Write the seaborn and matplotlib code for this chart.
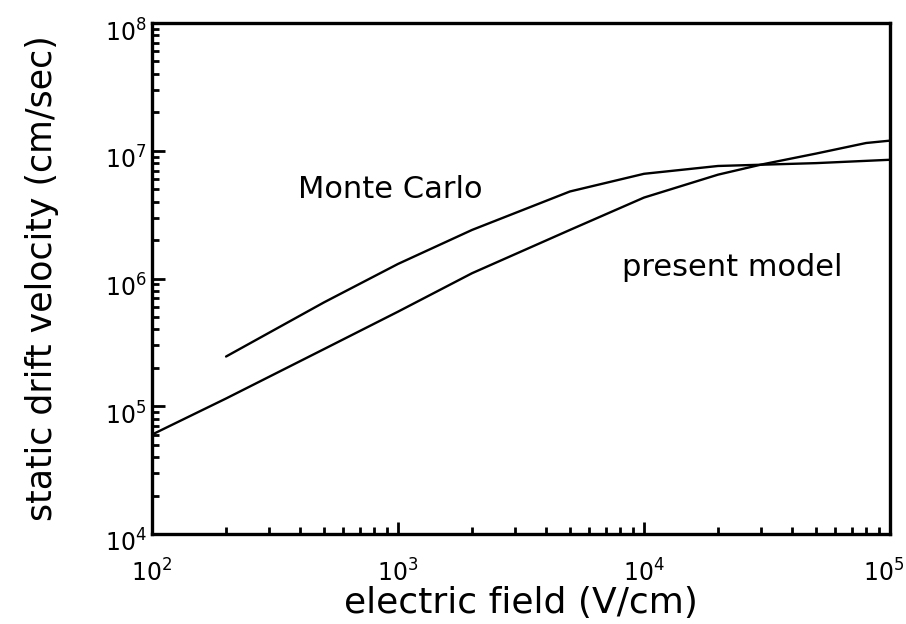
import numpy as np
import pandas as pd
import matplotlib
matplotlib.use("Agg")
import matplotlib.pyplot as plt
import matplotlib.transforms as mtransforms
import seaborn as sns
from matplotlib.ticker import LogLocator, NullFormatter, FixedLocator

# Data
field_mc = [200, 500, 1000, 2000, 5000, 10000, 20000, 50000, 100000]
vel_mc = [2.45e5, 6.5e5, 1.3e6, 2.4e6, 4.8e6, 6.6e6, 7.6e6, 8.0e6, 8.5e6]

field_model = [100, 200, 500, 1000, 2000, 5000, 10000, 20000, 30000, 50000, 80000, 100000]
vel_model = [6.0e4, 1.15e5, 2.8e5, 5.5e5, 1.1e6, 2.4e6, 4.3e6, 6.5e6, 7.8e6, 9.5e6, 1.15e7, 1.2e7]

xticks = [1e2, 1e3, 1e4, 1e5]
xticklabels = ["$10^{2}$", "$10^{3}$", "$10^{4}$", "$10^{5}$"]
yticks = [1e4, 1e5, 1e6, 1e7, 1e8]
yticklabels = ["$10^{4}$", "$10^{5}$", "$10^{6}$", "$10^{7}$", "$10^{8}$"]

df = pd.concat([
    pd.DataFrame({"field": field_mc, "vel": vel_mc, "series": "Monte Carlo"}),
    pd.DataFrame({"field": field_model, "vel": vel_model, "series": "present model"}),
])

sns.set_style("white")
plt.rcParams["font.family"] = ["DejaVu Sans"]
plt.rcParams["mathtext.fontset"] = "dejavusans"
plt.rcParams["text.color"] = "black"
plt.rcParams["axes.labelcolor"] = "black"

fig = plt.figure(figsize=(9.06, 6.24), dpi=100)
ax = fig.add_axes([152/906, 1 - 534/624, (890-152)/906, (534-23)/624])

sns.lineplot(data=df, x="field", y="vel", units="series", estimator=None,
             color="black", linewidth=1.7, ax=ax, legend=False, sort=False)

ax.set_xscale("log")
ax.set_yscale("log")
ax.set_xlim(1e2, 1e5)
ax.set_ylim(1e4, 1e8)

ax.xaxis.set_major_locator(FixedLocator(xticks))
ax.set_xticklabels(xticklabels)
ax.yaxis.set_major_locator(FixedLocator(yticks))
ax.set_yticklabels(yticklabels)
ax.xaxis.set_minor_locator(LogLocator(base=10, subs=np.arange(2, 10), numticks=20))
ax.yaxis.set_minor_locator(LogLocator(base=10, subs=np.arange(2, 10), numticks=20))
ax.xaxis.set_minor_formatter(NullFormatter())
ax.yaxis.set_minor_formatter(NullFormatter())

ax.tick_params(which="both", bottom=True, left=True, top=False, right=False)
ax.tick_params(which="major", direction="in", length=9, width=2, labelsize=17,
               color="black", labelcolor="black")
ax.tick_params(which="minor", direction="in", length=5, width=2, color="black")
ax.tick_params(axis="x", which="major", pad=18)
ax.tick_params(axis="y", which="major", pad=4)

# y tick labels sit slightly below their ticks, as in the reference
for lbl in ax.get_yticklabels():
    lbl.set_transform(lbl.get_transform() + mtransforms.ScaledTranslation(0, -7/100, fig.dpi_scale_trans))
# nudge the last x label inward slightly so it fits the canvas
lbl = ax.get_xticklabels()[-1]
lbl.set_transform(lbl.get_transform() + mtransforms.ScaledTranslation(-6/100, 0, fig.dpi_scale_trans))

for s in ax.spines.values():
    s.set_visible(True)
    s.set_linewidth(2.4)
    s.set_color("black")

ax.set_xlabel("electric field (V/cm)", fontsize=26, labelpad=0)
ax.set_ylabel("static drift velocity (cm/sec)", fontsize=25, labelpad=33)

fig.text(390/906, 1 - 190/624, "Monte Carlo", fontsize=22, ha="center", va="center")
fig.text(732/906, 1 - 267/624, "present model", fontsize=22, ha="center", va="center")

fig.savefig("out.png", dpi=100, facecolor="white")
